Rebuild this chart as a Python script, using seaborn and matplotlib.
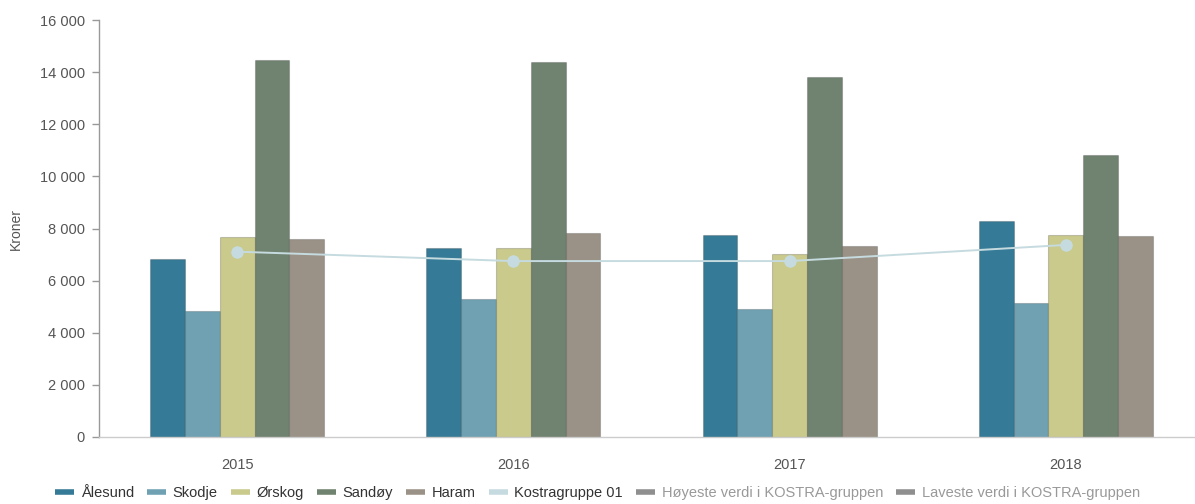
import pandas as pd
import matplotlib
matplotlib.use("Agg")
import matplotlib.pyplot as plt
import matplotlib.ticker as mticker
from matplotlib.lines import Line2D
import seaborn as sns

# =====================================
# Data
# =====================================

years = ["2015", "2016", "2017", "2018"]
kommuner = ["Ålesund", "Skodje", "Ørskog", "Sandøy", "Haram"]

aalesund = [6820, 7270, 7740, 8290]
skodje = [4820, 5280, 4920, 5130]
orskog = [7660, 7260, 7030, 7760]
sandoy = [14470, 14390, 13810, 10820]
haram = [7610, 7820, 7330, 7720]

kostra = [7110, 6750, 6750, 7370]

legend_labels = kommuner + [
    "Kostragruppe 01",
    "Høyeste verdi i KOSTRA-gruppen",
    "Laveste verdi i KOSTRA-gruppen",
]

colors = ["#357a96", "#6fa1b3", "#c9ca8b", "#708270", "#9a9287"]
kostra_color = "#c6dbdf"
hidden_color = "#8f8f8f"

# =====================================
# Long table for seaborn
# =====================================

rows = []
for name, vals in zip(kommuner, [aalesund, skodje, orskog, sandoy, haram]):
    for year, v in zip(years, vals):
        rows.append({"year": year, "kommune": name, "value": v})
df = pd.DataFrame(rows)

df_kostra = pd.DataFrame({"year": years, "value": kostra})

# =====================================
# Chart
# =====================================

sns.set_style("white")
plt.rcParams["font.family"] = ["Liberation Sans", "DejaVu Sans"]

fig = plt.figure(figsize=(11.95, 5.04), dpi=100)
ax = fig.add_axes([99 / 1195, 1 - 437 / 504, 1105 / 1195, 417 / 504])

sns.barplot(
    data=df,
    x="year",
    y="value",
    hue="kommune",
    order=years,
    hue_order=kommuner,
    palette=colors,
    width=0.63,
    gap=0,
    saturation=1,
    edgecolor=(0, 0, 0, 0.18),
    linewidth=0.8,
    legend=False,
    ax=ax,
)

sns.lineplot(
    data=df_kostra,
    x="year",
    y="value",
    color=kostra_color,
    linewidth=1.4,
    marker="o",
    markersize=9,
    markeredgewidth=0,
    sort=False,
    zorder=5,
    ax=ax,
)

ax.set_xlim(-0.5, len(years) - 0.5)
ax.set_ylim(0, 16000)
ax.yaxis.set_major_locator(mticker.MultipleLocator(2000))
ax.yaxis.set_major_formatter(
    mticker.FuncFormatter(lambda v, p: f"{int(v):,}".replace(",", " "))
)

ax.set_xticks(range(len(years)))
ax.set_xticks([i + 0.5 for i in range(len(years) - 1)], minor=True)
ax.tick_params(axis="x", which="major", length=0, pad=15,
               labelsize=10.5, labelcolor="#555555")
ax.tick_params(axis="x", which="minor", length=5, width=1, color="#cccccc")
ax.tick_params(axis="y", length=5, width=1, color="#999999", pad=5,
               labelsize=10.5, labelcolor="#555555", left=True)

for side in ["top", "right"]:
    ax.spines[side].set_visible(False)
ax.spines["left"].set_color("#999999")
ax.spines["left"].set_linewidth(1)
ax.spines["bottom"].set_color("#cccccc")
ax.spines["bottom"].set_linewidth(1)

ax.set_xlabel("")
ax.set_ylabel("Kroner", fontsize=10, color="#555555", labelpad=12)

# =====================================
# Legend
# =====================================

handle_colors = colors + [kostra_color, hidden_color, hidden_color]
handles = [
    Line2D([0], [0], color=c, linewidth=4, solid_capstyle="butt")
    for c in handle_colors
]

leg = fig.legend(
    handles,
    legend_labels,
    loc="center",
    bbox_to_anchor=(0.5, 1 - 493 / 504),
    ncol=len(legend_labels),
    frameon=False,
    fontsize=10.5,
    handlelength=1.3,
    handletextpad=0.45,
    columnspacing=0.9,
)
for i, text in enumerate(leg.get_texts()):
    text.set_color("#333333" if i < 6 else "#999999")

fig.savefig("out.png", dpi=100)
